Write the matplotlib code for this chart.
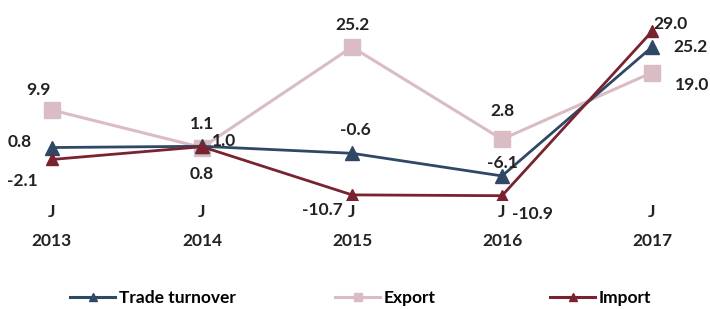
import matplotlib
matplotlib.use("Agg")
import matplotlib.pyplot as plt
import matplotlib.transforms as mtransforms
from matplotlib.lines import Line2D

years = ["2013", "2014", "2015", "2016", "2017"]
month = "J"
turnover = [0.8, 1.1, -0.6, -6.1, 25.2]
export = [9.9, 0.8, 25.2, 2.8, 19.0]
imports = [-2.1, 1.0, -10.7, -10.9, 29.0]

c_turn = "#2E4866"
c_exp = "#D9BCC4"
c_imp = "#7A2330"

plt.rcParams['font.family'] = ['Lato', 'DejaVu Sans']
FS = 12.5

fig = plt.figure(figsize=(7.1, 3.09), dpi=100)
ax = fig.add_axes([-0.3 * 150 / 710 + 52 / 710, 0.352, 4.6 * 150 / 710, 0.613])
x = list(range(len(years)))

ax.plot(x, export, color=c_exp, lw=2.2, marker='s', ms=11, zorder=2)
ax.plot(x, turnover, color=c_turn, lw=2.0, marker='^', ms=10, zorder=3)
ax.plot(x, imports, color=c_imp, lw=2.0, marker='^', ms=8, zorder=4)

ax.set_xlim(-0.3, 4.3)
ax.set_ylim(-12, 34)
ax.axis('off')

# data labels: (series, index, dx px, dy px)
labels = [
    (export, 0, -14, 20), (turnover, 0, -32, 6), (imports, 0, -30, -22),
    (turnover, 1, 0, 22), (imports, 1, 22, 6), (export, 1, 0, -26),
    (export, 2, 0, 22), (turnover, 2, 3, 23), (imports, 2, -30, -15),
    (export, 3, 0, 28), (turnover, 3, 0, 13), (imports, 3, 30, -18),
    (imports, 4, 18, 7), (turnover, 4, 38, 0), (export, 4, 40, -12),
]
for s, i, dx, dy in labels:
    ax.annotate(f"{s[i]:.1f}", (x[i], s[i]), xytext=(dx, dy), textcoords='offset pixels',
                ha='center', va='center', fontsize=FS, fontweight='bold', color='#222222')

tr = mtransforms.blended_transform_factory(ax.transData, fig.transFigure)
for i, yr in enumerate(years):
    ax.text(x[i], 1 - 212 / 309, month, transform=tr, ha='center', va='center',
            fontsize=FS, fontweight='bold', color='#222222')
    ax.text(x[i], 1 - 241 / 309, yr, transform=tr, ha='center', va='center',
            fontsize=FS, fontweight='bold', color='#222222')

entries = [
    ("Trade turnover", c_turn, '^', 70),
    ("Export", c_exp, 's', 335),
    ("Import", c_imp, '^', 550),
]
for name, col, mk, px in entries:
    h = Line2D([], [], color=col, lw=2.2, marker=mk, ms=6)
    fig.legend(handles=[h], labels=[name], loc='center left',
               bbox_to_anchor=(px / 710, 1 - 298 / 309), frameon=False,
               handlelength=2.6, handletextpad=0.2, borderpad=0,
               borderaxespad=0, prop={'weight': 'bold', 'size': FS})

fig.savefig("out.png", dpi=100)
